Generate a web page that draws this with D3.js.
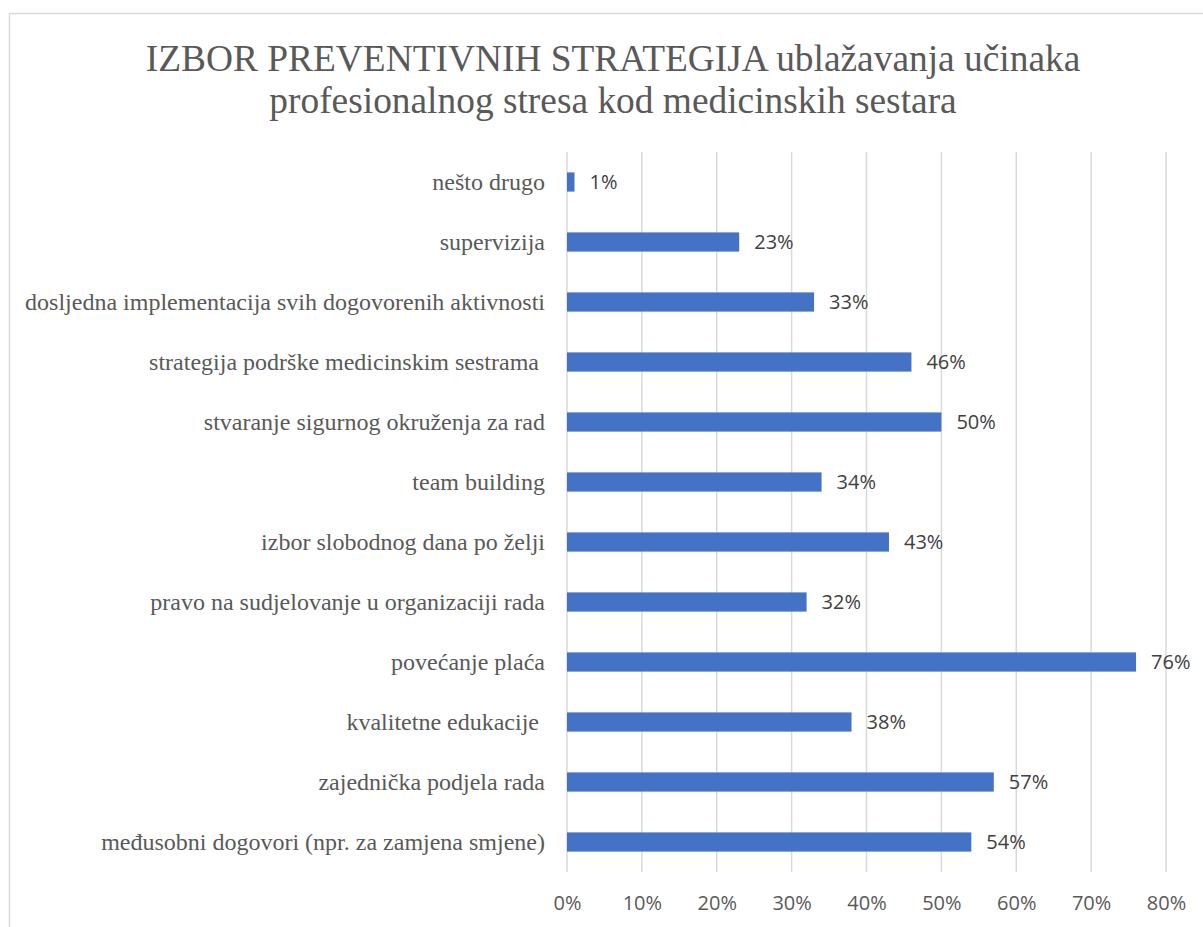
<!DOCTYPE html>
<html><head><meta charset="utf-8">
<script src="https://cdn.jsdelivr.net/npm/d3@7"></script>
<style>body{margin:0;background:#fff}svg{display:block}</style>
</head><body>
<svg id="c" width="1203" height="927"></svg>
<script>
const titleLines = ["IZBOR PREVENTIVNIH STRATEGIJA ublažavanja učinaka", "profesionalnog stresa kod medicinskih sestara"];
const categories = [
  "nešto drugo",
  "supervizija",
  "dosljedna implementacija svih dogovorenih aktivnosti",
  "strategija podrške medicinskim sestrama ",
  "stvaranje sigurnog okruženja za rad",
  "team building",
  "izbor slobodnog dana po želji",
  "pravo na sudjelovanje u organizaciji rada",
  "povećanje plaća",
  "kvalitetne edukacije ",
  "zajednička podjela rada",
  "međusobni dogovori (npr. za zamjena smjene)"
];
const values = [0.01, 0.23, 0.33, 0.46, 0.50, 0.34, 0.43, 0.32, 0.76, 0.38, 0.57, 0.54];
const tickValues = [0, 0.1, 0.2, 0.3, 0.4, 0.5, 0.6, 0.7, 0.8];

const svg = d3.select("#c");
svg.append("rect").attr("x", 9.5).attr("y", 13.5).attr("width", 1210).attr("height", 930)
  .attr("fill", "#fff").attr("stroke", "#d9d9d9").attr("stroke-width", 1.5);

const serif = "'Liberation Serif', 'Times New Roman', serif";
const sans = "'Open Sans', Calibri, sans-serif";

svg.append("g").selectAll("text").data(titleLines).join("text")
  .attr("x", 613).attr("y", (d, i) => 71 + i * 42)
  .attr("text-anchor", "middle").attr("font-family", serif).attr("font-size", 37.4)
  .attr("fill", "#595959").text(d => d);

const x = d3.scaleLinear().domain([0, 0.8]).range([567, 1166]);
const y = d3.scaleBand().domain(categories).range([152, 872]).paddingInner(0.68).paddingOuter(0.34);

const grid = svg.append("g");
grid.selectAll("line").data(tickValues).join("line")
  .attr("x1", d => x(d)).attr("x2", d => x(d))
  .attr("y1", 152).attr("y2", 872)
  .attr("stroke", "#d9d9d9").attr("stroke-width", 1.5);

const xAxis = d3.axisBottom(x).tickValues(tickValues).tickFormat(d3.format(".0%")).tickSize(0).tickPadding(0);
const ax = svg.append("g").attr("transform", "translate(0,910)").call(xAxis);
ax.select(".domain").remove();
ax.selectAll("text").attr("font-family", sans).attr("font-size", 20).attr("fill", "#595959").attr("dy", 0);

const yAxis = d3.axisLeft(y).tickSize(0).tickPadding(0);
const ay = svg.append("g").attr("transform", "translate(545,0)").call(yAxis);
ay.select(".domain").remove();
ay.selectAll("text").attr("font-family", serif).attr("font-size", 24).attr("fill", "#595959")
  .attr("dy", "0.32em").style("white-space", "pre");

svg.append("g").selectAll("rect").data(values).join("rect")
  .attr("x", x(0)).attr("y", (d, i) => y(categories[i]))
  .attr("width", d => x(d) - x(0)).attr("height", y.bandwidth())
  .attr("fill", "#4472c4");

svg.append("g").selectAll("text").data(values).join("text")
  .attr("x", d => x(d) + 15).attr("y", (d, i) => y(categories[i]) + y.bandwidth() / 2)
  .attr("dy", "0.36em").attr("font-family", sans).attr("font-size", 20).attr("fill", "#404040")
  .text(d => d3.format(".0%")(d));
</script>
</body></html>
